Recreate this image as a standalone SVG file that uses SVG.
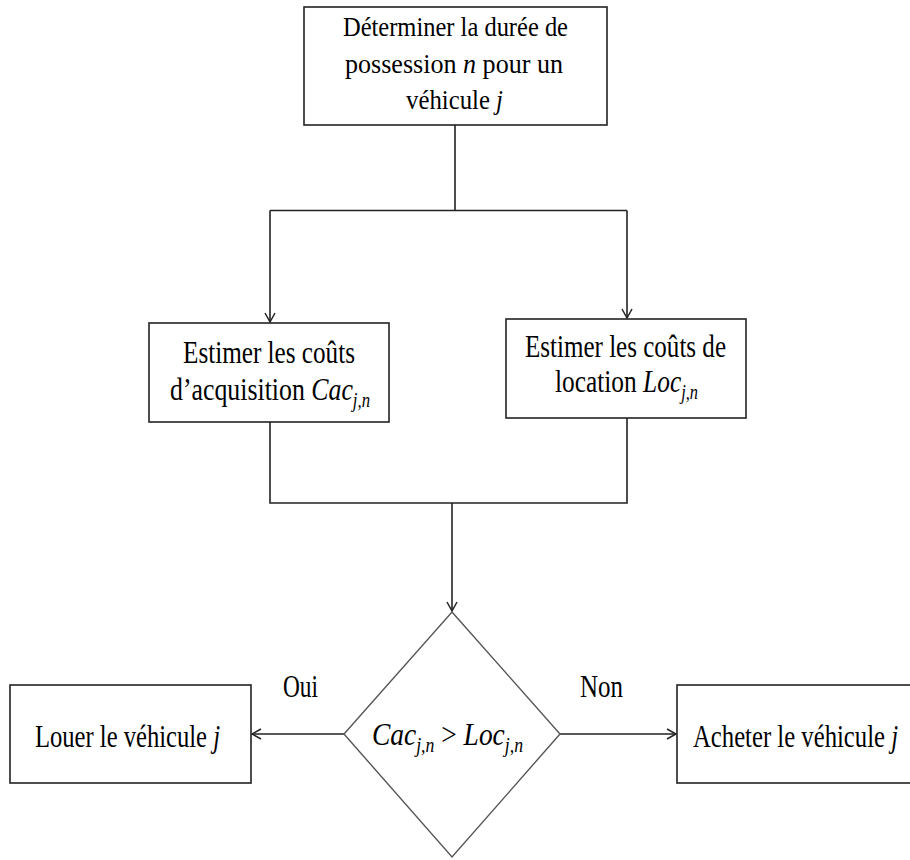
<svg xmlns="http://www.w3.org/2000/svg" width="910" height="860" viewBox="0 0 910 860">
  <style>
    .box { fill: #ffffff; stroke: #222222; stroke-width: 1.6; }
    .dia { fill: #ffffff; stroke: #555555; stroke-width: 1.4; }
    .wire { fill: none; stroke: #222222; stroke-width: 1.6; }
    .t { font-family: "Liberation Serif", "Times New Roman", serif; fill: #000000; text-anchor: middle; }
    .s27 { font-size: 27px; }
    .s31 { font-size: 31px; }
    .s32 { font-size: 32px; }
    .m { font-style: italic; }
    .sub { font-size: 20px; font-style: italic; }
  </style>
  <defs>
    <marker id="arrow" markerWidth="12" markerHeight="12" refX="10" refY="6" orient="auto" markerUnits="userSpaceOnUse">
      <path d="M1,1 L10,6 L1,11" fill="none" stroke="#222222" stroke-width="1.5"/>
    </marker>
  </defs>

  <!-- connectors -->
  <g id="connectors">
    <path class="wire" d="M455,125 V210.5 M270,210.5 H627"/>
    <path class="wire" d="M270,210.5 V322" marker-end="url(#arrow)"/>
    <path class="wire" d="M627,210.5 V318" marker-end="url(#arrow)"/>
    <path class="wire" d="M270,422 V503 H627 V418"/>
    <path class="wire" d="M452,503 V611" marker-end="url(#arrow)"/>
    <path class="wire" d="M344,734 H252" marker-end="url(#arrow)"/>
    <path class="wire" d="M560,734 H676" marker-end="url(#arrow)"/>
    <text class="t s32" x="300.5" y="697" textLength="35" lengthAdjust="spacingAndGlyphs">Oui</text>
    <text class="t s32" x="601.5" y="697" textLength="43" lengthAdjust="spacingAndGlyphs">Non</text>
  </g>

  <!-- start -->
  <g id="n-duree">
    <rect class="box" x="304" y="7" width="303" height="118"/>
    <text class="t s27" x="455.5" y="36" textLength="225" lengthAdjust="spacingAndGlyphs">Déterminer la durée de</text>
    <text class="t s27" x="454" y="72.5" textLength="218" lengthAdjust="spacingAndGlyphs">possession <tspan class="m">n</tspan> pour un</text>
    <text class="t s27" x="454.5" y="108.5" textLength="97" lengthAdjust="spacingAndGlyphs">véhicule <tspan class="m">j</tspan></text>
  </g>

  <!-- acquisition cost -->
  <g id="n-acquisition">
    <rect class="box" x="149" y="323" width="240" height="99"/>
    <text class="t s31" x="269" y="363" textLength="172" lengthAdjust="spacingAndGlyphs">Estimer les coûts</text>
    <text class="t s31" x="270" y="400" textLength="200" lengthAdjust="spacingAndGlyphs">d’acquisition <tspan class="m">Cac</tspan><tspan class="sub" dy="7">j,n</tspan></text>
  </g>

  <!-- rental cost -->
  <g id="n-location">
    <rect class="box" x="506" y="319" width="240" height="99"/>
    <text class="t s31" x="625.5" y="357" textLength="201" lengthAdjust="spacingAndGlyphs">Estimer les coûts de</text>
    <text class="t s31" x="626.5" y="392" textLength="143" lengthAdjust="spacingAndGlyphs">location <tspan class="m">Loc</tspan><tspan class="sub" dy="7">j,n</tspan></text>
  </g>

  <!-- decision -->
  <g id="n-decision">
    <polygon class="dia" points="452,612 560,734 452,857 344,734"/>
    <text class="t s31" x="447.5" y="745" textLength="151" lengthAdjust="spacingAndGlyphs"><tspan class="m">Cac</tspan><tspan class="sub" dy="7">j,n</tspan><tspan dy="-7"> &gt; </tspan><tspan class="m">Loc</tspan><tspan class="sub" dy="7">j,n</tspan></text>
  </g>

  <!-- outcomes -->
  <g id="n-louer">
    <rect class="box" x="10" y="685" width="241" height="98"/>
    <text class="t s32" x="127.5" y="747" textLength="185" lengthAdjust="spacingAndGlyphs">Louer le véhicule <tspan class="m">j</tspan></text>
  </g>

  <g id="n-acheter">
    <rect class="box" x="677" y="685" width="240" height="98"/>
    <text class="t s32" x="795.5" y="747" textLength="205" lengthAdjust="spacingAndGlyphs">Acheter le véhicule <tspan class="m">j</tspan></text>
  </g>
</svg>
